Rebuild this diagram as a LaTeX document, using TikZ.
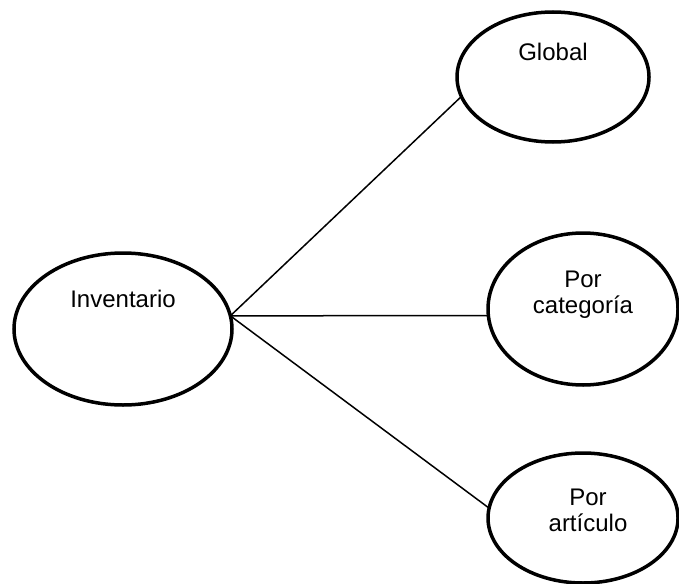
\documentclass[tikz,border=0pt]{standalone}
\usepackage{fontspec}
\setmainfont{Liberation Sans}
\usetikzlibrary{shapes.geometric}
\begin{document}
\begin{tikzpicture}[x=1pt,y=-1pt,
  oval/.style={ellipse, draw=black, line width=3.5pt, fill=white, inner sep=0pt, outer sep=0pt},
  lbl/.style={font=\fontsize{24}{26}\selectfont, inner sep=0pt, outer sep=0pt, align=center, anchor=base},
  link/.style={draw=black, line width=1.5pt}]
\useasboundingbox (0,0) rectangle (679,583);
% ellipses
\node[oval, minimum width=218pt, minimum height=152pt] (inv) at (123,329) {};
\node[oval, minimum width=192pt, minimum height=130pt] (glob) at (553,77) {};
\node[oval, minimum width=190pt, minimum height=152pt] (cat) at (583,309) {};
\node[oval, minimum width=190pt, minimum height=130pt] (art) at (583,518) {};
% connectors
\draw[link] (inv.7) -- (glob.192.7);
\draw[link] (inv.7) -- (cat.184.2);
\draw[link] (inv.7) -- (art.174.6);
% labels (base anchor = baseline of the last line)
\node[lbl] (invt) at (123,307) {Inventario};
\node[lbl] (globt) at (553,61) {Global};
\node[lbl] (catt) at (583,313) {Por\\categoría};
\node[lbl] (artt) at (588,531) {Por\\artículo};
\end{tikzpicture}
\end{document}
